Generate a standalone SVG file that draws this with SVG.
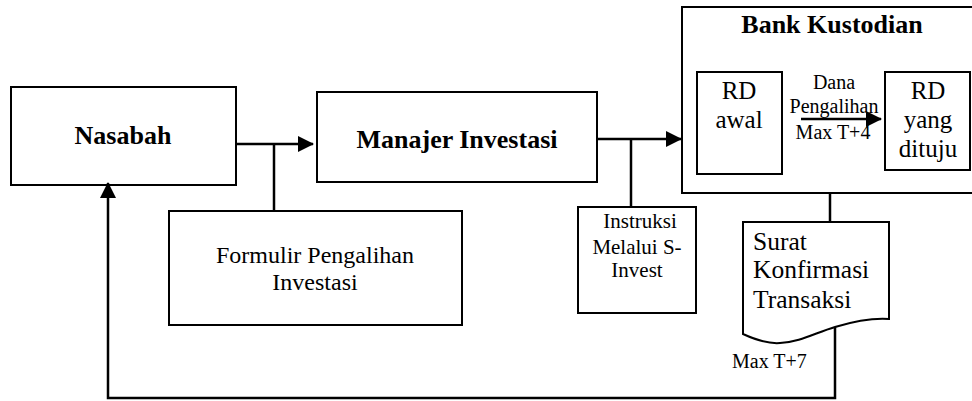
<svg xmlns="http://www.w3.org/2000/svg" width="972" height="401" viewBox="0 0 972 401" font-family="Liberation Serif, DejaVu Serif, serif">
<style>
.box{fill:#fff;stroke:#000;stroke-width:2}
.ln{fill:none;stroke:#000;stroke-width:2.5}
.b{font-weight:bold;font-size:26px}
.m{text-anchor:middle}
</style>
<defs>
<marker id="ah" markerUnits="userSpaceOnUse" markerWidth="16" markerHeight="16" viewBox="0 0 16 16" refX="15" refY="8" orient="auto">
<path d="M0,0 L16,8 L0,16 Z" fill="#000"/>
</marker>
</defs>
<rect width="972" height="401" fill="#fff"/>
<g id="nasabah">
<rect class="box" x="11" y="87" width="225" height="98"/>
<text class="b m" x="123" y="144">Nasabah</text>
</g>
<g id="manajer">
<rect class="box" x="317" y="92" width="280" height="90"/>
<text class="b m" x="457" y="148">Manajer Investasi</text>
</g>
<g id="bank">
<path class="box" d="M980,7 H682 V193 H980"/>
<text class="b m" x="832" y="33">Bank Kustodian</text>
</g>
<g id="rd-awal">
<rect class="box" x="697" y="72" width="85" height="102"/>
<text class="m" x="739" y="99" font-size="25">RD</text>
<text class="m" x="739" y="128" font-size="25">awal</text>
</g>
<g id="dana-label">
<text class="m" x="834" y="89" font-size="20">Dana</text>
<text class="m" x="834" y="113" font-size="20">Pengalihan</text>
<text class="m" x="833" y="139" font-size="20">Max T+4</text>
</g>
<g id="rd-dituju">
<rect class="box" x="885" y="72" width="85" height="98"/>
<text class="m" x="928" y="99" font-size="25">RD</text>
<text class="m" x="928" y="128" font-size="25">yang</text>
<text class="m" x="928" y="157" font-size="25">dituju</text>
</g>
<g id="formulir">
<rect class="box" x="169" y="211" width="293" height="114"/>
<text class="m" x="315" y="263" font-size="24">Formulir Pengalihan</text>
<text class="m" x="315" y="290" font-size="24">Investasi</text>
</g>
<g id="instruksi">
<rect class="box" x="578" y="207" width="118" height="106"/>
<text class="m" x="640" y="228" font-size="21">Instruksi</text>
<text class="m" x="637" y="254" font-size="21">Melalui S-</text>
<text class="m" x="637" y="277" font-size="21">Invest</text>
</g>
<g id="surat">
<path class="box" d="M743,222 H889 V319 C875,318 855,321 835,327 C815,333 800,342 780,343 C768,344 756,340 743,334 Z"/>
<text x="753" y="250" font-size="25.5">Surat</text>
<text x="753" y="278" font-size="25.5">Konfirmasi</text>
<text x="753" y="308" font-size="25.5">Transaksi</text>
</g>
<g id="max-t7">
<text x="732" y="368" font-size="20">Max T+7</text>
</g>
<g id="connectors">
<path class="ln" d="M236,144 H313" marker-end="url(#ah)"/>
<path class="ln" d="M274,144 V211"/>
<path class="ln" d="M597,139 H681" marker-end="url(#ah)"/>
<path class="ln" d="M631,139 V207"/>
<path class="ln" d="M830,193 V222"/>
<path class="ln" d="M801,119 H881" marker-end="url(#ah)"/>
<path class="ln" d="M835,327 V398 H108 V183" marker-end="url(#ah)"/>
</g>
</svg>
